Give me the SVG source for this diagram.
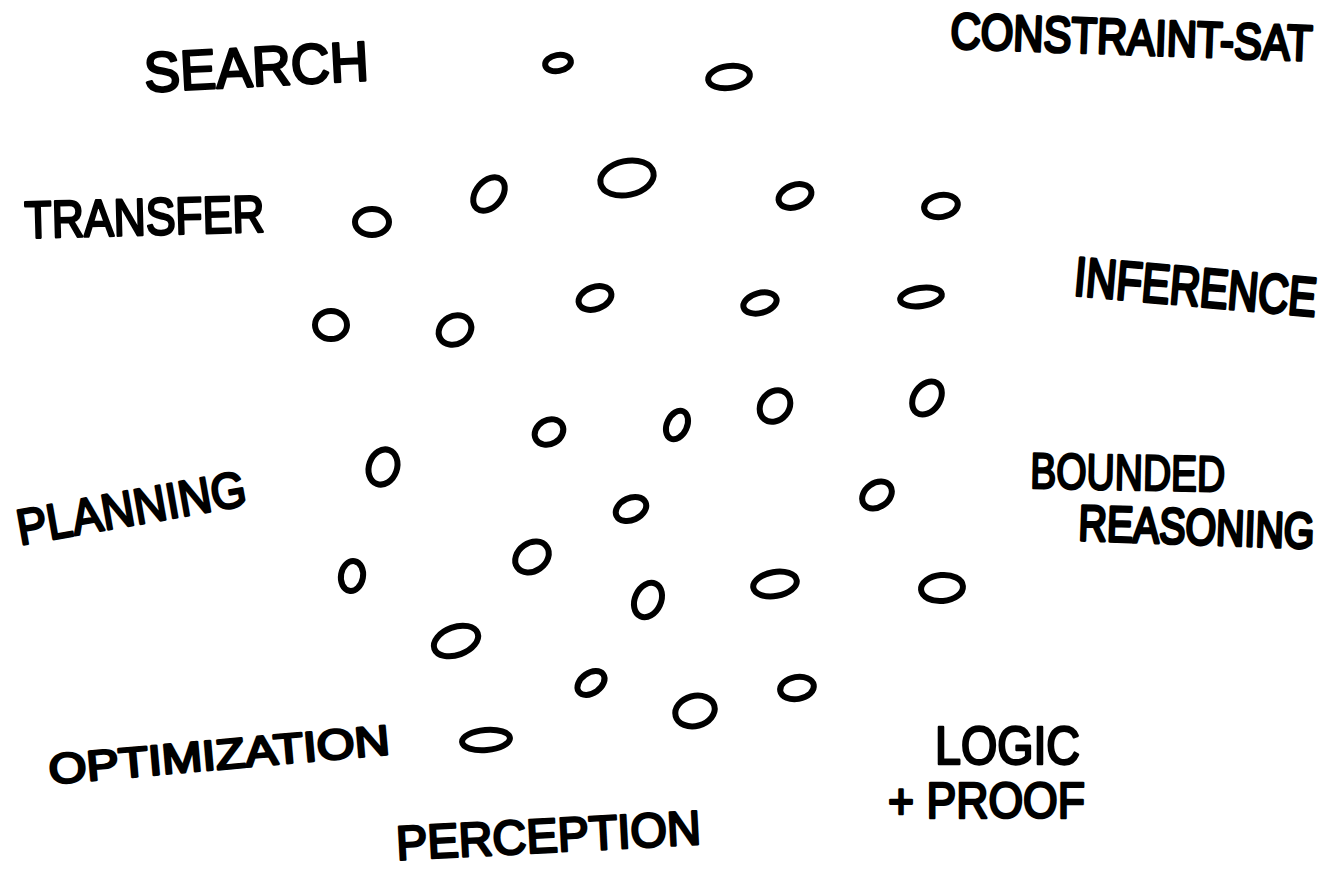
<svg xmlns="http://www.w3.org/2000/svg" width="1338" height="872" viewBox="0 0 1338 872">
  <style>
    .lbl { font-family: "Liberation Sans", "DejaVu Sans", sans-serif; font-weight: normal; fill: #000; stroke: #000; stroke-width: 2.6; stroke-linejoin: round; }
    .dot { fill: none; stroke: #000; stroke-width: 6; }
  </style>
  <rect width="1338" height="872" fill="#fff"/>

  <!-- field labels -->
  <g id="labels">
    <g id="search"><text class="lbl" x="145" y="92" font-size="56" textLength="225" lengthAdjust="spacingAndGlyphs" transform="rotate(-3 145 92)">SEARCH</text></g>
    <g id="constraint-sat"><text class="lbl" x="0" y="0" font-size="41" textLength="362" lengthAdjust="spacingAndGlyphs" transform="translate(950 48) rotate(2) scale(1 1.22)">CONSTRAINT-SAT</text></g>
    <g id="transfer"><text class="lbl" x="25" y="238" font-size="52" textLength="240" lengthAdjust="spacingAndGlyphs" transform="rotate(-1.5 25 238)">TRANSFER</text></g>
    <g id="inference"><text class="lbl" x="0" y="0" font-size="42" textLength="243" lengthAdjust="spacingAndGlyphs" transform="translate(1073 295) rotate(5) scale(1 1.3)">INFERENCE</text></g>
    <g id="bounded-reasoning">
      <text class="lbl" x="1030" y="488" font-size="50" textLength="195" lengthAdjust="spacingAndGlyphs" transform="rotate(1 1030 488)">BOUNDED</text>
      <text class="lbl" x="0" y="0" font-size="39" textLength="236" lengthAdjust="spacingAndGlyphs" transform="translate(1078 540) rotate(2) scale(1 1.28)">REASONING</text>
    </g>
    <g id="planning"><text class="lbl" x="20" y="545" font-size="50" textLength="232" lengthAdjust="spacingAndGlyphs" transform="rotate(-10 20 545)">PLANNING</text></g>
    <g id="optimization"><text class="lbl" x="50" y="784" font-size="42" textLength="342" lengthAdjust="spacingAndGlyphs" transform="rotate(-5 50 784)">OPTIMIZATION</text></g>
    <g id="logic-proof">
      <text class="lbl" x="935" y="764" font-size="54" textLength="145" lengthAdjust="spacingAndGlyphs">LOGIC</text>
      <text class="lbl" x="888" y="818" font-size="50" textLength="197" lengthAdjust="spacingAndGlyphs">+ PROOF</text>
    </g>
    <g id="perception"><text class="lbl" x="397" y="860" font-size="48" textLength="305" lengthAdjust="spacingAndGlyphs" transform="rotate(-3 397 860)">PERCEPTION</text></g>
  </g>

  <!-- scattered points -->
  <g id="points">
    <ellipse class="dot" cx="558" cy="63" rx="13" ry="8" transform="rotate(-10 558 63)"/>
    <ellipse class="dot" cx="729" cy="77" rx="21" ry="11" transform="rotate(-8 729 77)"/>
    <ellipse class="dot" cx="627" cy="178" rx="27" ry="17" transform="rotate(-12 627 178)"/>
    <ellipse class="dot" cx="489" cy="194" rx="19" ry="13" transform="rotate(-50 489 194)"/>
    <ellipse class="dot" cx="795" cy="196" rx="17" ry="11" transform="rotate(-20 795 196)"/>
    <ellipse class="dot" cx="941" cy="206" rx="17" ry="11" transform="rotate(-10 941 206)"/>
    <ellipse class="dot" cx="372" cy="222" rx="17" ry="13"/>
    <ellipse class="dot" cx="595" cy="298" rx="17" ry="11" transform="rotate(-20 595 298)"/>
    <ellipse class="dot" cx="760" cy="303" rx="17" ry="10" transform="rotate(-15 760 303)"/>
    <ellipse class="dot" cx="921" cy="297" rx="21" ry="9" transform="rotate(-8 921 297)"/>
    <ellipse class="dot" cx="331" cy="325" rx="16" ry="14"/>
    <ellipse class="dot" cx="455" cy="330" rx="17" ry="14" transform="rotate(-30 455 330)"/>
    <ellipse class="dot" cx="549" cy="432" rx="15" ry="12" transform="rotate(-30 549 432)"/>
    <ellipse class="dot" cx="677" cy="425" rx="15" ry="10" transform="rotate(-65 677 425)"/>
    <ellipse class="dot" cx="775" cy="406" rx="17" ry="14" transform="rotate(-50 775 406)"/>
    <ellipse class="dot" cx="927" cy="398" rx="18" ry="13" transform="rotate(-55 927 398)"/>
    <ellipse class="dot" cx="383" cy="467" rx="18" ry="14" transform="rotate(-70 383 467)"/>
    <ellipse class="dot" cx="877" cy="495" rx="16" ry="12" transform="rotate(-35 877 495)"/>
    <ellipse class="dot" cx="631" cy="509" rx="16" ry="11" transform="rotate(-25 631 509)"/>
    <ellipse class="dot" cx="532" cy="557" rx="18" ry="14" transform="rotate(-35 532 557)"/>
    <ellipse class="dot" cx="352" cy="576" rx="15" ry="11" transform="rotate(-80 352 576)"/>
    <ellipse class="dot" cx="648" cy="600" rx="18" ry="13" transform="rotate(-65 648 600)"/>
    <ellipse class="dot" cx="775" cy="584" rx="22" ry="12" transform="rotate(-10 775 584)"/>
    <ellipse class="dot" cx="942" cy="588" rx="21" ry="13" transform="rotate(-5 942 588)"/>
    <ellipse class="dot" cx="456" cy="641" rx="23" ry="14" transform="rotate(-20 456 641)"/>
    <ellipse class="dot" cx="591" cy="683" rx="15" ry="10" transform="rotate(-35 591 683)"/>
    <ellipse class="dot" cx="797" cy="688" rx="17" ry="11" transform="rotate(-10 797 688)"/>
    <ellipse class="dot" cx="695" cy="711" rx="20" ry="15" transform="rotate(-15 695 711)"/>
    <ellipse class="dot" cx="486" cy="740" rx="24" ry="10" transform="rotate(-5 486 740)"/>
  </g>
</svg>
